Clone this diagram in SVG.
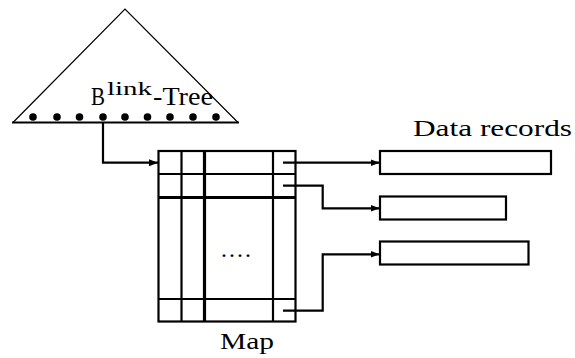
<svg xmlns="http://www.w3.org/2000/svg" width="575" height="358" viewBox="0 0 575 358">
<style>
.ln{fill:none;stroke:#000;stroke-width:2.2}
.thk{fill:none;stroke:#000;stroke-width:3.2}
.dot{fill:#000}
</style>
<defs>
<marker id="ah" markerWidth="10" markerHeight="8" refX="9" refY="4" orient="auto" markerUnits="userSpaceOnUse">
<path d="M0,0.5 L9,4 L0,7.5 Z" fill="#000"/>
</marker>
</defs>
<rect width="575" height="358" fill="#fff"/>
<g id="btree">
<path d="M13,122.5 L125,9 L238,122.5" fill="none" stroke="#000" stroke-width="1.2"/>
<line x1="12" y1="122.5" x2="239" y2="122.5" stroke="#000" stroke-width="2.2"/>
<circle class="dot" cx="33" cy="117" r="3.8"/>
<circle class="dot" cx="57" cy="117" r="3.8"/>
<circle class="dot" cx="79.5" cy="117" r="3.8"/>
<circle class="dot" cx="103" cy="117" r="3.8"/>
<circle class="dot" cx="125" cy="117" r="3.8"/>
<circle class="dot" cx="147.5" cy="117" r="3.8"/>
<circle class="dot" cx="170" cy="117" r="3.8"/>
<circle class="dot" cx="193" cy="117" r="3.8"/>
<circle class="dot" cx="216" cy="117" r="3.8"/>
<text x="91" y="105" font-family="Liberation Serif" font-size="25" textLength="14" lengthAdjust="spacingAndGlyphs">B</text>
<text x="107" y="95" font-family="Liberation Serif" font-size="18" textLength="45" lengthAdjust="spacingAndGlyphs">link</text>
<text x="153" y="105" font-family="Liberation Serif" font-size="25" textLength="60" lengthAdjust="spacingAndGlyphs">-Tree</text>
</g>
<g id="map">
<rect class="ln" x="158.5" y="151" width="137" height="170.5"/>
<line class="ln" x1="181.5" y1="151" x2="181.5" y2="321.5"/>
<line class="thk" x1="204.5" y1="151" x2="204.5" y2="321.5"/>
<line class="ln" x1="273" y1="151" x2="273" y2="321.5"/>
<line class="ln" x1="158.5" y1="174" x2="295.5" y2="174"/>
<line class="thk" x1="158.5" y1="197.5" x2="295.5" y2="197.5"/>
<line class="ln" x1="158.5" y1="299" x2="295.5" y2="299"/>
<text x="221" y="257" font-family="Liberation Serif" font-size="24" textLength="30" lengthAdjust="spacing">....</text>
<text x="220" y="349" font-family="Liberation Serif" font-size="24" textLength="54" lengthAdjust="spacingAndGlyphs">Map</text>
</g>
<g id="rec1"><rect class="ln" x="380" y="151" width="171" height="23"/></g>
<g id="rec2"><rect class="ln" x="380" y="196.5" width="126" height="23"/></g>
<g id="rec3"><rect class="ln" x="380" y="241.5" width="148.5" height="23"/></g>
<g id="label"><text x="413" y="135.5" font-family="Liberation Serif" font-size="23" textLength="159" lengthAdjust="spacingAndGlyphs">Data records</text></g>
<g id="connectors">
<path class="ln" d="M103,122.5 V162.7 H158" marker-end="url(#ah)"/>
<path class="ln" d="M283,162.7 H379.5" marker-end="url(#ah)"/>
<path class="ln" d="M283,185.7 H322.7 V208.3 H379.5" marker-end="url(#ah)"/>
<path class="ln" d="M283,310.7 H322.7 V254.3 H379.5" marker-end="url(#ah)"/>
</g>
</svg>
